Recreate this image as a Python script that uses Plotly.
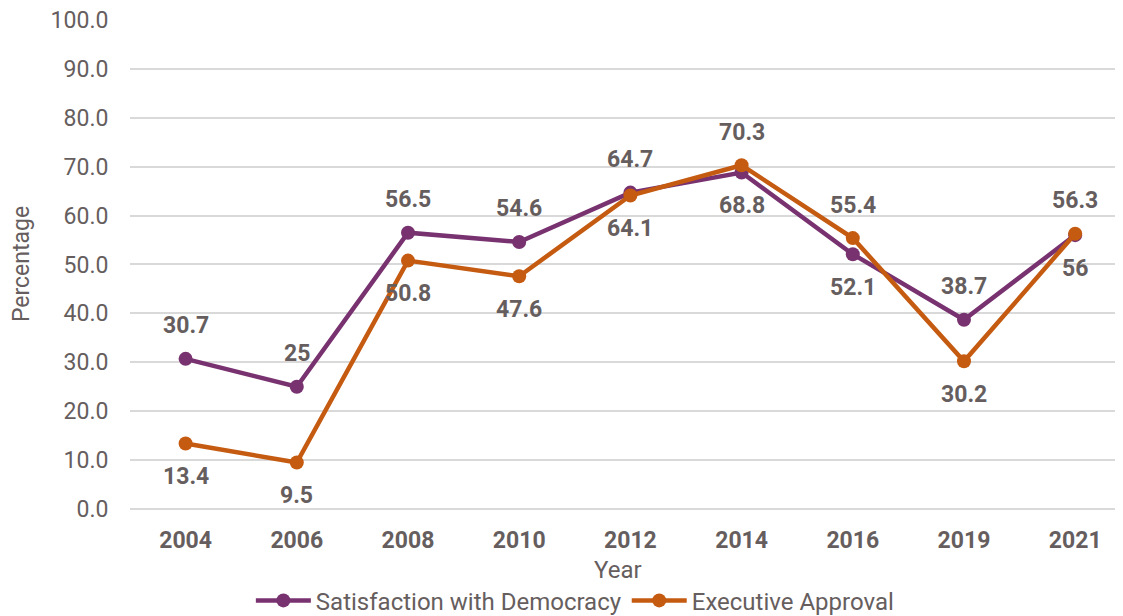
import plotly.graph_objs as go

# Données
years = ["2004", "2006", "2008", "2010", "2012", "2014", "2016", "2019", "2021"]
satisfaction = [30.7, 25, 56.5, 54.6, 64.7, 68.8, 52.1, 38.7, 56]
executive = [13.4, 9.5, 50.8, 47.6, 64.1, 70.3, 55.4, 30.2, 56.3]

# Label au-dessus (+1) ou en dessous (-1) du point
sat_side = [1, 1, 1, 1, 1, -1, -1, 1, -1]
exe_side = [-1, -1, -1, -1, -1, 1, 1, -1, 1]

text_col = "#665E5E"
grid_col = "#D9D9D9"
purple = "#783270"
orange = "#C55A11"

fig = go.Figure()

for name, vals, col in [("Satisfaction with Democracy", satisfaction, purple),
                        ("Executive Approval", executive, orange)]:
    fig.add_trace(go.Scatter(
        x=years, y=vals, name=name,
        mode="lines+markers",
        line=dict(color=col, width=4.5),
        marker=dict(color=col, size=14),
    ))

# Étiquettes de données (x = index de catégorie)
for vals, sides in [(satisfaction, sat_side), (executive, exe_side)]:
    for i, (v, s) in enumerate(zip(vals, sides)):
        fig.add_annotation(
            x=i, y=v, xref="x", yref="y", text=f"{v:g}", showarrow=False,
            yshift=33 * s,
            font=dict(family="Roboto", size=23, color=text_col, weight="bold"),
        )

# Titre de l'axe X placé à la main
fig.add_annotation(
    x=0.491, y=-0.125, xref="paper", yref="paper", text="Year", showarrow=False,
    xanchor="center", yanchor="middle",
    font=dict(family="Roboto", size=24, color=text_col),
)

fig.update_layout(
    width=1115, height=608,
    margin=dict(l=122, r=0, t=11, b=107),
    plot_bgcolor="white", paper_bgcolor="white",
    font=dict(family="Roboto", color=text_col, size=22),
    showlegend=True,
    legend=dict(orientation="h", x=0.448, xanchor="center", yref="container",
                y=0.025, yanchor="middle", font=dict(size=24), itemwidth=55),
    xaxis=dict(
        type="category", range=[-0.5, 8.43], automargin=False,
        tickfont=dict(size=23, weight="bold"),
        showgrid=False, ticks="outside", ticklen=10, tickcolor="white", showline=False,
    ),
    yaxis=dict(
        range=[0, 100.2], dtick=10, tickformat=".1f", automargin=False,
        ticklabeloverflow="allow",
        title=dict(text="Percentage", font=dict(size=23), standoff=24),
        tickfont=dict(size=23),
        gridcolor=grid_col, gridwidth=2,
        zeroline=True, zerolinecolor=grid_col, zerolinewidth=2,
        ticks="outside", ticklen=16, tickcolor="white",
    ),
)

fig.write_html("out.html")
